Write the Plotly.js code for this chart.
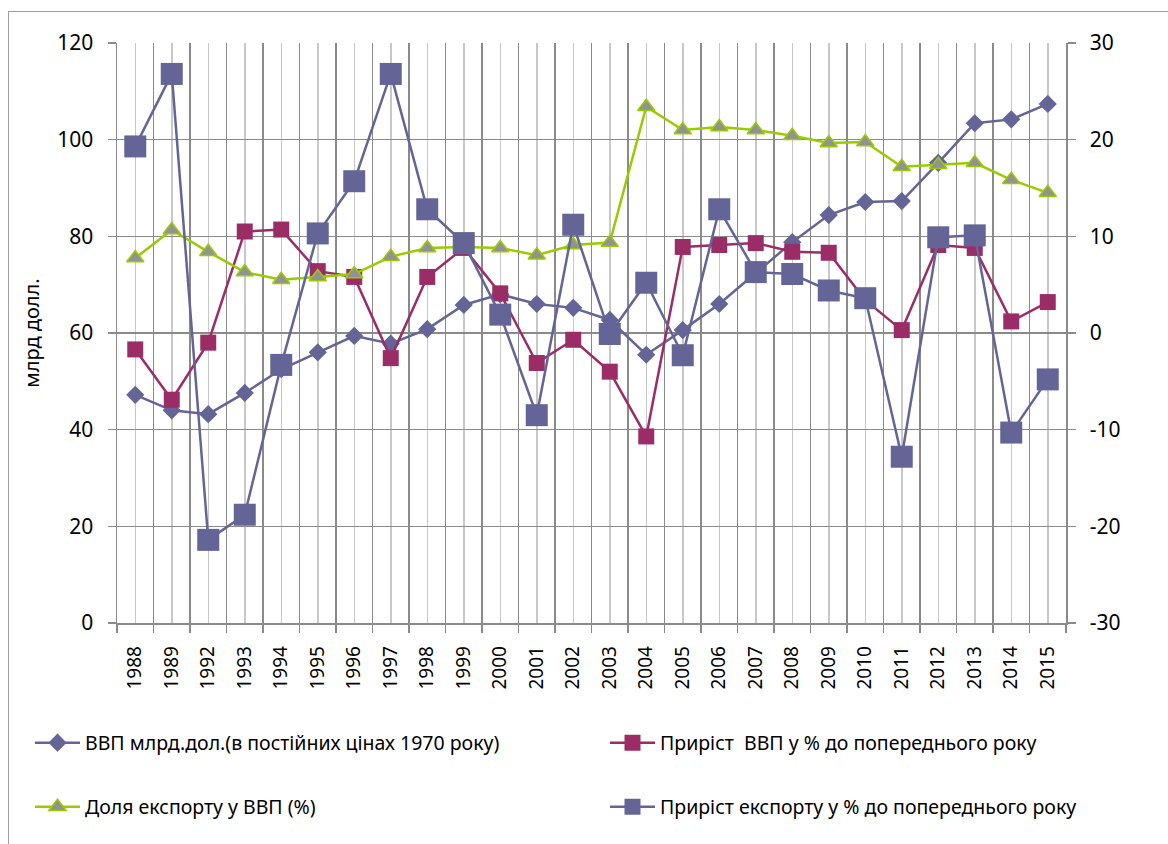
<!DOCTYPE html>
<html>
<head>
<meta charset="utf-8">
<script src="https://cdn.plot.ly/plotly-3.0.1.min.js"></script>
<style>
  html, body { margin: 0; padding: 0; background: #fff; }
  #chart { width: 1168px; height: 844px; position: relative; }
  #frame { position: absolute; left: 8px; top: 11px; width: 1200px; height: 900px; border: 1.5px solid #a0a0a0; pointer-events: none; box-sizing: border-box; }
</style>
</head>
<body>
<div id="chart"><div id="frame"></div></div>
<script>
const years = ['1988','1989','1992','1993','1994','1995','1996','1997','1998','1999','2000','2001','2002','2003','2004','2005','2006','2007','2008','2009','2010','2011','2012','2013','2014','2015'];

// ВВП млрд.дол. (left axis)
const gdp = [47.2, 44.0, 43.2, 47.6, 52.5, 56.0, 59.4, 57.8, 60.8, 65.8, 68.0, 66.0, 65.2, 62.7, 55.5, 60.6, 66.0, 72.4, 78.8, 84.4, 87.1, 87.3, 95.2, 103.4, 104.2, 107.4];
// Доля експорту у ВВП (%) (left axis)
const exportShare = [75.5, 81.3, 76.8, 72.6, 71.0, 71.6, 72.2, 75.8, 77.6, 77.8, 77.6, 76.1, 78.2, 78.7, 106.8, 102.0, 102.6, 102.0, 100.8, 99.3, 99.5, 94.4, 94.8, 95.2, 91.7, 89.0];
// Приріст ВВП у % до попереднього року (right axis)
const gdpGrowth = [-1.7, -6.9, -1.0, 10.5, 10.7, 6.4, 5.8, -2.6, 5.8, 8.8, 4.1, -3.1, -0.7, -4.0, -10.7, 8.9, 9.1, 9.3, 8.4, 8.3, 3.4, 0.3, 9.1, 8.8, 1.2, 3.2];
// Приріст експорту у % до попереднього року (right axis)
const exportGrowth = [19.3, 26.8, -21.4, -18.8, -3.3, 10.3, 15.7, 26.8, 12.8, 9.3, 1.9, -8.5, 11.2, -0.1, 5.2, -2.3, 12.8, 6.3, 6.1, 4.4, 3.6, -12.8, 9.9, 10.1, -10.3, -4.8];

const leftTicks = [0, 20, 40, 60, 80, 100, 120];
const rightTicks = [-30, -20, -10, 0, 10, 20, 30];
const rightTickText = ['-30', '-20', '-10', '0', '10', '20', '30'];

const names = [
  'ВВП млрд.дол.(в постійних цінах 1970 року)',
  'Приріст  ВВП у % до попереднього року',
  'Доля експорту у ВВП (%)',
  'Приріст експорту у % до попереднього року'
];

const xIdx = years.map((_, i) => i);
const FONT = 'Noto Sans, DejaVu Sans, sans-serif';
const BLUE = '#646496';
const MAG = '#9b2d66';
const GREEN = '#99cc00';
const GRID_DARK = '#8a8a8a';
const GRID_LIGHT = '#c8c8c8';

const traces = [
  { x: xIdx, y: gdp, name: names[0], yaxis: 'y', legend: 'legend', mode: 'lines+markers',
    line: { color: BLUE, width: 2.5 }, marker: { symbol: 'diamond', size: 14, color: BLUE } },
  { x: xIdx, y: gdpGrowth, name: names[1], yaxis: 'y2', legend: 'legend2', mode: 'lines+markers',
    line: { color: MAG, width: 2.5 }, marker: { symbol: 'square', size: 16, color: MAG } },
  { x: xIdx, y: exportShare, name: names[2], yaxis: 'y3', legend: 'legend3', mode: 'lines+markers',
    line: { color: GREEN, width: 2.5 }, marker: { symbol: 'triangle-up', size: 15, color: '#929292', line: { color: GREEN, width: 1.5 } } },
  { x: xIdx, y: exportGrowth, name: names[3], yaxis: 'y4', legend: 'legend4', mode: 'lines+markers',
    line: { color: BLUE, width: 2.5 }, marker: { symbol: 'square', size: 22, color: BLUE } }
];

function legendAt(px, py) {
  return {
    orientation: 'h', xref: 'container', yref: 'container', xanchor: 'left', yanchor: 'middle',
    x: px / 1168, y: 1 - py / 844,
    font: { family: FONT, size: 19.5, color: '#000' }, bgcolor: 'rgba(0,0,0,0)', itemwidth: 45
  };
}

const layout = {
  width: 1168, height: 844,
  margin: { l: 117, r: 102, t: 43, b: 221, pad: 0, autoexpand: false },
  paper_bgcolor: '#fff', plot_bgcolor: '#fff',
  font: { family: FONT, color: '#000' },
  showlegend: true,
  xaxis: {
    range: [-0.5, years.length - 0.5], tickmode: 'array', tickvals: xIdx, ticktext: years,
    tickangle: -90, tickfont: { family: FONT, size: 19, color: '#000' },
    showgrid: true, gridcolor: GRID_LIGHT, gridwidth: 1.5, ticks: '', zeroline: false,
    showline: true, linecolor: GRID_DARK, linewidth: 1.5, ticklabelstandoff: 14,
    minor: { tickmode: 'linear', tick0: -0.5, dtick: 1, showgrid: true, gridcolor: GRID_DARK, gridwidth: 1.5,
             ticks: 'outside', ticklen: 8, tickcolor: GRID_DARK, tickwidth: 1.5 }
  },
  yaxis: {
    range: [0, 120], tickmode: 'array', tickvals: leftTicks, showgrid: true, gridcolor: GRID_DARK, gridwidth: 1.5,
    zeroline: false, showline: true, linecolor: GRID_DARK, linewidth: 1.5,
    ticks: 'outside', ticklen: 8, tickcolor: GRID_DARK, tickwidth: 1.5,
    tickfont: { family: FONT, size: 21, color: '#000' }, ticklabelstandoff: 10,
    title: { text: 'млрд долл.', font: { family: FONT, size: 20, color: '#000' }, standoff: 12 }
  },
  yaxis2: {
    range: [-30, 30], tickmode: 'array', tickvals: rightTicks, ticktext: rightTickText,
    overlaying: 'y', side: 'right', showgrid: false,
    zeroline: false, showline: true, linecolor: GRID_DARK, linewidth: 1.5,
    ticks: 'outside', ticklen: 8, tickcolor: GRID_DARK, tickwidth: 1.5,
    tickfont: { family: FONT, size: 21, color: '#000' }, ticklabelstandoff: 10
  },
  yaxis3: { range: [0, 120], overlaying: 'y', visible: false, showgrid: false, zeroline: false },
  yaxis4: { range: [-30, 30], overlaying: 'y', visible: false, showgrid: false, zeroline: false },
  legend: legendAt(30, 743),
  legend2: legendAt(605, 743),
  legend3: legendAt(30, 807),
  legend4: legendAt(605, 807)
};

Plotly.newPlot('chart', traces, layout, { displayModeBar: false, staticPlot: true }).then(() => {
  const f = document.getElementById('frame');
  document.getElementById('chart').appendChild(f);
});
</script>
</body>
</html>
